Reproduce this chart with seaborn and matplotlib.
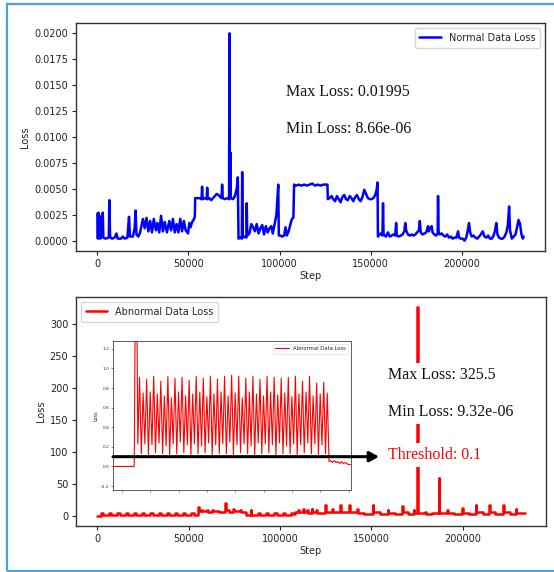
import numpy as np
import matplotlib
matplotlib.use("Agg")
import matplotlib.pyplot as plt
import matplotlib.transforms as mtransforms
from matplotlib.patches import Rectangle
import seaborn as sns

sns.set_theme(style="ticks")
plt.rcParams["font.family"] = ["DejaVu Sans"]
plt.rcParams["axes.unicode_minus"] = True

# ---------------------------------------------------------------- data
# normal run: training step (thousands) and loss
normal_step_k = [
    0, 0.3, 0.6, 0.9, 1.2, 1.5, 2.2, 3.0, 3.3, 4.5,
    6.3, 6.6, 7.0, 8.0, 9.5, 10.5, 11.2, 13.0, 14.0, 15.0,
    16.5, 17.4, 17.9, 19.5, 20.5, 21.0, 21.5, 22.5, 23.5, 24.5,
    25.0, 26.0, 27.0, 28.0, 29.0, 30.0, 31.0, 32.2, 33.0, 34.0,
    35.0, 36.0, 37.0, 38.2, 39.5, 40.5, 41.5, 42.5, 43.5, 44.5,
    45.5, 46.5, 47.5, 48.5, 49.8, 50.5, 51.2, 52.0, 52.8, 53.5,
    53.7, 54.5, 56.0, 57.2, 57.5, 57.8, 59.0, 60.0, 60.3, 60.6,
    61.5, 62.5, 63.5, 64.5, 65.5, 66.5, 67.5, 68.2, 68.5, 68.8,
    70.0, 71.5, 72.3, 72.5, 72.7, 73.0, 73.2, 74.5, 75.5, 76.5,
    77.1, 77.5, 78.5, 79.3, 79.5, 79.8, 81.0, 81.8, 82.0, 82.3,
    83.5, 84.5, 85.5, 86.5, 87.5, 88.5, 89.5, 90.5, 91.5, 92.5,
    93.5, 94.5, 95.5, 96.3, 97.2, 98.3, 99.3, 99.6, 100.5, 101.5,
    102.5, 103.3, 104.0, 105.0, 106.0, 106.8, 107.6, 108.0, 109.0, 110.5,
    112.0, 113.5, 115.0, 116.5, 118.0, 119.5, 121.0, 122.5, 124.0, 126.3,
    126.5, 127.5, 128.5, 129.5, 130.5, 131.5, 132.5, 133.5, 134.5, 135.5,
    136.5, 137.5, 138.5, 139.5, 140.5, 141.5, 142.5, 143.5, 144.5, 145.5,
    146.5, 147.5, 148.5, 149.5, 150.5, 151.5, 152.5, 153.3, 153.8, 154.0,
    154.5, 155.5, 156.5, 156.8, 157.1, 158.5, 159.5, 160.5, 161.5, 162.5,
    163.5, 164.0, 164.4, 165.5, 166.5, 167.5, 168.5, 169.0, 169.5, 170.5,
    171.5, 172.5, 173.5, 174.5, 175.5, 176.5, 177.0, 177.5, 178.5, 179.5,
    180.5, 181.5, 182.0, 182.5, 183.5, 184.0, 185.0, 186.0, 186.8, 187.0,
    187.3, 188.0, 189.0, 190.0, 191.0, 192.0, 193.0, 194.0, 195.0, 196.0,
    197.0, 198.0, 198.5, 199.5, 200.5, 201.5, 202.5, 203.3, 204.0, 204.6,
    205.5, 206.5, 207.5, 208.5, 209.5, 210.5, 211.5, 212.5, 213.5, 214.5,
    215.5, 216.5, 217.5, 218.3, 219.0, 219.6, 220.5, 221.5, 222.5, 223.5,
    224.5, 225.3, 226.0, 226.5, 227.5, 228.5, 229.5, 230.5, 231.2, 232.0,
    232.8, 233.5, 234.0,
]
normal_loss = [
    0.0026, 0.0002, 0.0027, 0.0003, 0.0024, 0.0002, 0.0003, 0.0027, 0.0003, 0.0002,
    0.0003, 0.0039, 0.0004, 0.0002, 0.0003, 0.0007, 0.0002, 0.0002, 0.0004, 0.0002,
    0.0003, 0.0023, 0.0004, 0.0004, 0.0012, 0.0029, 0.0006, 0.0004, 0.0008, 0.0017,
    0.0021, 0.0012, 0.0022, 0.0009, 0.0019, 0.0008, 0.0021, 0.0010, 0.0017, 0.0008,
    0.0024, 0.0009, 0.0018, 0.0008, 0.0019, 0.0010, 0.0021, 0.0008, 0.0016, 0.0008,
    0.0021, 0.0009, 0.0019, 0.0010, 0.0007, 0.0017, 0.0013, 0.0018, 0.0020, 0.0023,
    0.0041, 0.0041, 0.0041, 0.0040, 0.0052, 0.0040, 0.0041, 0.0040, 0.0051, 0.0040,
    0.0041, 0.0039, 0.0041, 0.0043, 0.0045, 0.0044, 0.0042, 0.0041, 0.0054, 0.0041,
    0.0040, 0.0041, 0.0040, 0.01995, 0.0041, 0.0085, 0.0041, 0.0040, 0.0043, 0.0050,
    0.0061, 0.0002, 0.0003, 0.0002, 0.0066, 0.0003, 0.0004, 0.0003, 0.0036, 0.0005,
    0.0007, 0.0016, 0.0013, 0.0009, 0.0016, 0.0007, 0.0012, 0.0015, 0.0006, 0.0014,
    0.0008, 0.0012, 0.0014, 0.0007, 0.0015, 0.0025, 0.0054, 0.0005, 0.0005, 0.0004,
    0.0005, 0.0013, 0.0005, 0.0009, 0.0016, 0.0021, 0.0022, 0.0054, 0.0053, 0.0054,
    0.0053, 0.0054, 0.0053, 0.0054, 0.0055, 0.0053, 0.0054, 0.0053, 0.0054, 0.0054,
    0.0040, 0.0041, 0.0043, 0.0040, 0.0038, 0.0043, 0.0040, 0.0037, 0.0042, 0.0044,
    0.0040, 0.0039, 0.0043, 0.0041, 0.0038, 0.0042, 0.0044, 0.0040, 0.0038, 0.0042,
    0.0049, 0.0045, 0.0041, 0.0040, 0.0040, 0.0041, 0.0044, 0.0049, 0.0056, 0.0004,
    0.0005, 0.0007, 0.0005, 0.0036, 0.0006, 0.0004, 0.0008, 0.0004, 0.0005, 0.0006,
    0.0005, 0.0017, 0.0005, 0.0004, 0.0005, 0.0006, 0.0009, 0.0017, 0.0010, 0.0006,
    0.0005, 0.0006, 0.0005, 0.0006, 0.0008, 0.0010, 0.0019, 0.0008, 0.0006, 0.0007,
    0.0008, 0.0014, 0.0009, 0.0012, 0.0014, 0.0008, 0.0006, 0.0005, 0.0007, 0.0043,
    0.0008, 0.0006, 0.0007, 0.0005, 0.0004, 0.0006, 0.0003, 0.0004, 0.0002, 0.0003,
    0.0003, 0.0009, 0.0003, 0.0002, 0.0002, 0.00000866, 0.0003, 0.0010, 0.0017, 0.0008,
    0.0004, 0.0005, 0.0003, 0.0002, 0.0004, 0.0006, 0.0009, 0.0004, 0.0003, 0.0005,
    0.0002, 0.0002, 0.0005, 0.0010, 0.0017, 0.0006, 0.0003, 0.0002, 0.0002, 0.0004,
    0.0008, 0.0015, 0.0033, 0.0010, 0.0002, 0.0004, 0.0006, 0.0014, 0.0020, 0.0016,
    0.0006, 0.0002, 0.0004,
]

# abnormal run: step (thousands) where the loss changes, and the loss held from there
abnormal_step_k = [
    0, 2.0, 3.2, 6.5, 7.7, 11.0, 12.2, 15.5, 16.7, 20.0,
    21.2, 24.5, 25.7, 29.0, 30.2, 33.5, 34.7, 38.0, 39.2, 42.5,
    43.7, 47.0, 48.2, 51.5, 52.7, 55.0, 55.5, 57.0, 57.4, 60.0,
    60.4, 63.0, 63.4, 66.0, 66.4, 70.0, 70.4, 72.0, 74.5, 75.0,
    78.0, 78.4, 81.5, 84.0, 84.4, 88.0, 89.2, 92.5, 93.7, 97.0,
    98.2, 101.5, 102.7, 106.0, 107.2, 108.5, 110.0, 110.4, 112.8, 113.2,
    115.0, 115.4, 117.4, 117.8, 119.8, 120.2, 124.7, 125.1, 128.7, 129.1,
    133.0, 133.4, 137.9, 138.3, 142.1, 142.5, 146.0, 150.7, 151.1, 155.0,
    159.0, 159.4, 163.0, 166.9, 167.3, 170.0, 173.2, 173.6, 175.1, 175.4,
    179.7, 180.1, 183.0, 187.0, 187.3, 191.6, 192.0, 195.5, 199.8, 200.2,
    203.5, 207.1, 207.5, 211.0, 214.4, 214.8, 218.0, 222.1, 222.5, 226.0,
    229.1, 229.5, 234.0,
]
abnormal_loss = [
    0.00000932, 4.0, 1.5, 4.0, 1.5, 4.0, 1.5, 4.0, 1.5, 4.0,
    1.5, 4.0, 1.5, 4.0, 1.5, 4.0, 1.5, 4.0, 1.5, 4.0,
    1.5, 4.0, 1.5, 4.0, 1.5, 14.0, 7.0, 9.0, 6.5, 8.0,
    6.0, 8.0, 6.5, 7.5, 6.0, 19.0, 9.0, 6.0, 11.0, 7.0,
    8.0, 5.5, 1.5, 8.0, 1.5, 4.0, 1.5, 4.0, 1.5, 4.0,
    1.5, 4.0, 1.5, 4.0, 2.5, 6.0, 9.0, 5.0, 10.0, 5.0,
    9.0, 4.5, 10.0, 5.0, 8.0, 4.0, 17.0, 6.0, 10.0, 5.0,
    17.0, 6.0, 17.0, 5.0, 10.0, 4.0, 3.0, 17.0, 5.5, 3.0,
    8.0, 4.0, 3.0, 15.0, 5.0, 3.0, 8.0, 4.0, 325.5, 4.0,
    5.5, 3.0, 4.0, 59.0, 4.5, 8.0, 3.5, 3.0, 12.0, 4.5,
    3.0, 17.0, 5.0, 3.0, 17.0, 5.0, 3.0, 17.0, 5.0, 3.0,
    10.0, 4.5, 4.5,
]

# close-up of an abnormal window: loss per sample
inset_loss = [
    0.0, 0.0, 0.0, 0.0, 0.0, 0.0, 0.0, 0.0, 0.0, 0.0, 0.0, 0.0, 0.0,
    3.0, 0.23,
    0.91, 0.13, 0.75, 0.23,   0.89, 0.12, 0.76, 0.22,   0.92, 0.14, 0.74, 0.24,
    0.87, 0.13, 0.72, 0.21,   0.92, 0.12, 0.70, 0.23,   0.90, 0.13, 0.76, 0.25,
    0.91, 0.14, 0.72, 0.22,   0.88, 0.12, 0.74, 0.23,   0.92, 0.13, 0.76, 0.21,
    0.90, 0.14, 0.71, 0.24,   0.92, 0.12, 0.74, 0.22,   0.89, 0.13, 0.76, 0.23,
    0.92, 0.13, 0.72, 0.25,   0.93, 0.12, 0.75, 0.22,   0.92, 0.14, 0.70, 0.23,
    0.90, 0.13, 0.76, 0.21,   0.92, 0.12, 0.74, 0.24,   0.89, 0.13, 0.72, 0.23,
    0.92, 0.14, 0.76, 0.22,   0.91, 0.12, 0.73, 0.24,   0.90, 0.13, 0.75, 0.21,
    0.91, 0.13, 0.71, 0.23,   0.92, 0.12, 0.74, 0.22,   0.87, 0.14, 0.76, 0.24,
    0.92, 0.13, 0.72, 0.23,   0.85, 0.12, 0.74, 0.22,
    0.86, 0.13, 0.75,
    0.05, 0.06, 0.04, 0.06, 0.04, 0.05, 0.03, 0.05, 0.03, 0.04, 0.03, 0.02, 0.02,
]
inset_sample_spacing = 6.25
threshold = 0.1

normal_steps = np.array(normal_step_k) * 1000
abnormal_steps = np.array(abnormal_step_k) * 1000
inset_x = np.arange(len(inset_loss)) * inset_sample_spacing

# ---------------------------------------------------------------- figure
W, H = 554, 572
fig = plt.figure(figsize=(W / 100, H / 100), dpi=100)


def box(left, top, right, bottom):
    return [left / W, 1 - bottom / H, (right - left) / W, (bottom - top) / H]


ax_top = fig.add_axes(box(76, 23, 545, 251))
ax_bot = fig.add_axes(box(76, 297, 546, 526))
ax_in = fig.add_axes(box(113, 341, 351, 490))

serif = ["Liberation Serif", "DejaVu Serif"]
spine_col = "#333333"

for ax in (ax_top, ax_bot):
    for s in ax.spines.values():
        s.set_color(spine_col)
        s.set_linewidth(1.0)
    ax.tick_params(labelsize=7, length=3, width=0.8, pad=2.5, colors="#222222")
    ax.set_xticks([0, 50000, 100000, 150000, 200000])

# normal data loss
sns.lineplot(x=normal_steps, y=normal_loss, ax=ax_top, color="blue", lw=1.8,
             estimator=None, sort=False, label="Normal Data Loss")
ax_top.set_yticks(np.arange(0, 0.0201, 0.0025))
ax_top.set_xlabel("Step", fontsize=7, labelpad=2)
ax_top.set_ylabel("Loss", fontsize=7, labelpad=3)
ax_top.legend(loc="upper right", fontsize=7, frameon=True, handlelength=2.2,
              borderpad=0.5)
ax_top.text(103800, 0.0125,
            f"Max Loss: {max(normal_loss):.4g}\n\nMin Loss: {min(normal_loss):.2e}",
            family=serif, fontsize=11.5, color="#111111", ha="left", va="center",
            bbox=dict(facecolor="white", edgecolor="none", pad=3))

# abnormal data loss
sns.lineplot(x=abnormal_steps, y=abnormal_loss, ax=ax_bot, color="red", lw=1.8,
             estimator=None, sort=False, drawstyle="steps-post",
             label="Abnormal Data Loss")
ax_bot.set_yticks(np.arange(0, 301, 50))
ax_bot.set_xlabel("Step", fontsize=7, labelpad=2)
ax_bot.set_ylabel("Loss", fontsize=7, labelpad=3)
ax_bot.legend(loc="upper left", fontsize=7, frameon=True, handlelength=2.2,
              borderpad=0.5)
ax_bot.text(159300, 190.6,
            f"Max Loss: {max(abnormal_loss):.4g}\n\nMin Loss: {min(abnormal_loss):.2e}",
            family=serif, fontsize=11.5, color="#111111", ha="left", va="center",
            bbox=dict(facecolor="white", edgecolor="none", pad=3))
ax_bot.text(159300, 95, f"Threshold: {threshold:g}", family=serif, fontsize=11.5,
            color="red", ha="left", va="center",
            bbox=dict(facecolor="white", edgecolor="none", pad=3))

# close-up window
sns.lineplot(x=inset_x, y=inset_loss, ax=ax_in, color="red", lw=0.8,
             estimator=None, sort=False, label="Abnormal Data Loss")
ax_in.set_xlim(0, 840)
ax_in.set_ylim(-0.24, 1.28)
ax_in.set_xticks(np.arange(32, 840, 100))
ax_in.set_xticklabels([])
ax_in.set_yticks(np.arange(-0.2, 1.21, 0.2))
ax_in.yaxis.set_major_formatter(matplotlib.ticker.FormatStrFormatter("%.1f"))
ax_in.tick_params(labelsize=3.2, length=1.5, width=0.4, pad=1, colors="#333333")
ax_in.set_ylabel("Loss", fontsize=3.6, labelpad=2)
ax_in.set_xlabel("")
for s in ax_in.spines.values():
    s.set_color("#444444")
    s.set_linewidth(0.6)
leg = ax_in.legend(loc="upper right", fontsize=3.8, frameon=True, handlelength=2.5,
                   borderpad=0.5)
leg.get_frame().set_linewidth(0.4)

# threshold arrow from the close-up into the main panel
tip_tr = mtransforms.blended_transform_factory(fig.transFigure, ax_in.transData)
ax_in.annotate("", xy=(379 / W, threshold), xycoords=tip_tr,
               xytext=(0, threshold), textcoords="data",
               arrowprops=dict(arrowstyle="-|>,head_length=0.55,head_width=0.3",
                               color="black", lw=2.2, shrinkA=0, shrinkB=0,
                               mutation_scale=10),
               annotation_clip=False, zorder=5)

# outer frame
fig.patches.append(Rectangle((6.5 / W, 1 - 571 / H), (W + 20) / W, (571 - 4) / H,
                             transform=fig.transFigure, fill=False,
                             edgecolor="#4aa3df", lw=1.6))

fig.savefig("out.png", dpi=100)
